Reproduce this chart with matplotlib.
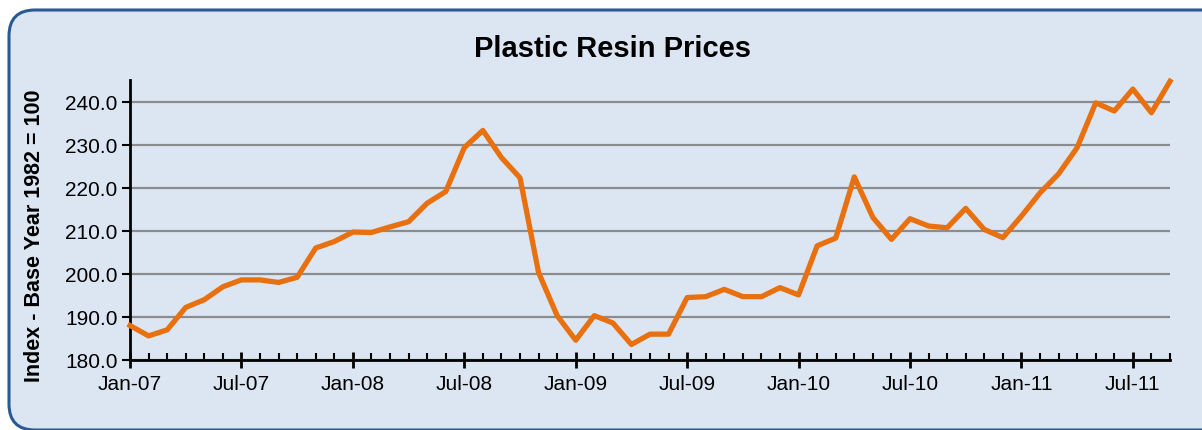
import matplotlib
matplotlib.use("Agg")
import matplotlib.pyplot as plt
from matplotlib.patches import FancyBboxPatch
from matplotlib.ticker import MultipleLocator, FixedLocator

plt.rcParams["font.family"] = ["Liberation Sans", "DejaVu Sans"]

# monthly index, Jan-07 .. Sep-11
prices = [188.0, 185.6, 187.0, 192.2, 194.0, 197.0, 198.6, 198.6, 198.0, 199.2, 206.0, 207.5,
          209.7, 209.6, 210.9, 212.1, 216.4, 219.1, 229.3, 233.3, 227.0, 222.3, 200.3, 190.3,
          184.6, 190.3, 188.6, 183.6, 186.0, 186.0, 194.5, 194.7, 196.4, 194.7, 194.7, 196.8,
          195.1, 206.5, 208.3, 222.5, 213.1, 208.0, 212.8, 211.1, 210.7, 215.2, 210.3, 208.4,
          213.4, 218.8, 223.2, 229.3, 239.7, 237.8, 242.9, 237.4, 244.7]
tick_labels = ["Jan-07", "Jul-07", "Jan-08", "Jul-08", "Jan-09", "Jul-09",
               "Jan-10", "Jul-10", "Jan-11", "Jul-11"]
months = list(range(len(prices)))

bg = "#dce6f2"
fig = plt.figure(figsize=(12.02, 4.31), dpi=100)
fig.patch.set_facecolor("white")

# rounded background panel
back = fig.add_axes([0, 0, 1, 1])
back.set_xlim(0, 1202)
back.set_ylim(431, 0)
back.axis("off")
back.add_patch(FancyBboxPatch((9, 11), 1225, 420, boxstyle="round,pad=0,rounding_size=26",
                              facecolor=bg, edgecolor="#2a5a92", linewidth=2.2))

ax = fig.add_axes([130 / 1202, 1 - 361 / 431, (1170 - 130) / 1202, (361 - 81) / 431])
ax.set_facecolor(bg)
ax.plot(months, prices, color="#e8700f", linewidth=3.8, clip_on=False, zorder=3)

ax.set_xlim(0, 56)
ax.set_ylim(180, 245)
ax.set_yticks(range(180, 241, 10))
ax.set_yticklabels([f"{v:.1f}" for v in range(180, 241, 10)])
ax.xaxis.set_major_locator(FixedLocator(range(0, 57, 6)))
ax.set_xticklabels(tick_labels)
ax.xaxis.set_minor_locator(MultipleLocator(1))

ax.grid(axis="y", color="#8c8c8c", linewidth=1.6)
ax.set_axisbelow(True)
for s in ["top", "right"]:
    ax.spines[s].set_visible(False)
for s in ["left", "bottom"]:
    ax.spines[s].set_linewidth(2)
    ax.spines[s].set_color("black")

ax.tick_params(axis="x", which="major", direction="inout", length=12, width=2, labelsize=15, pad=4)
ax.tick_params(axis="x", which="minor", direction="in", length=5, width=1.5)
ax.tick_params(axis="y", direction="out", length=6, width=1.5, labelsize=15, pad=3)

fig.text(612 / 1202, 1 - 57 / 431, "Plastic Resin Prices", fontsize=21, fontweight="bold",
         ha="center", va="baseline")
fig.text(35 / 1202, 1 - 236 / 431, "Index - Base Year 1982 = 100", fontsize=15.5, fontweight="bold",
         rotation=90, ha="center", va="center")

fig.savefig("out.png", dpi=100)
